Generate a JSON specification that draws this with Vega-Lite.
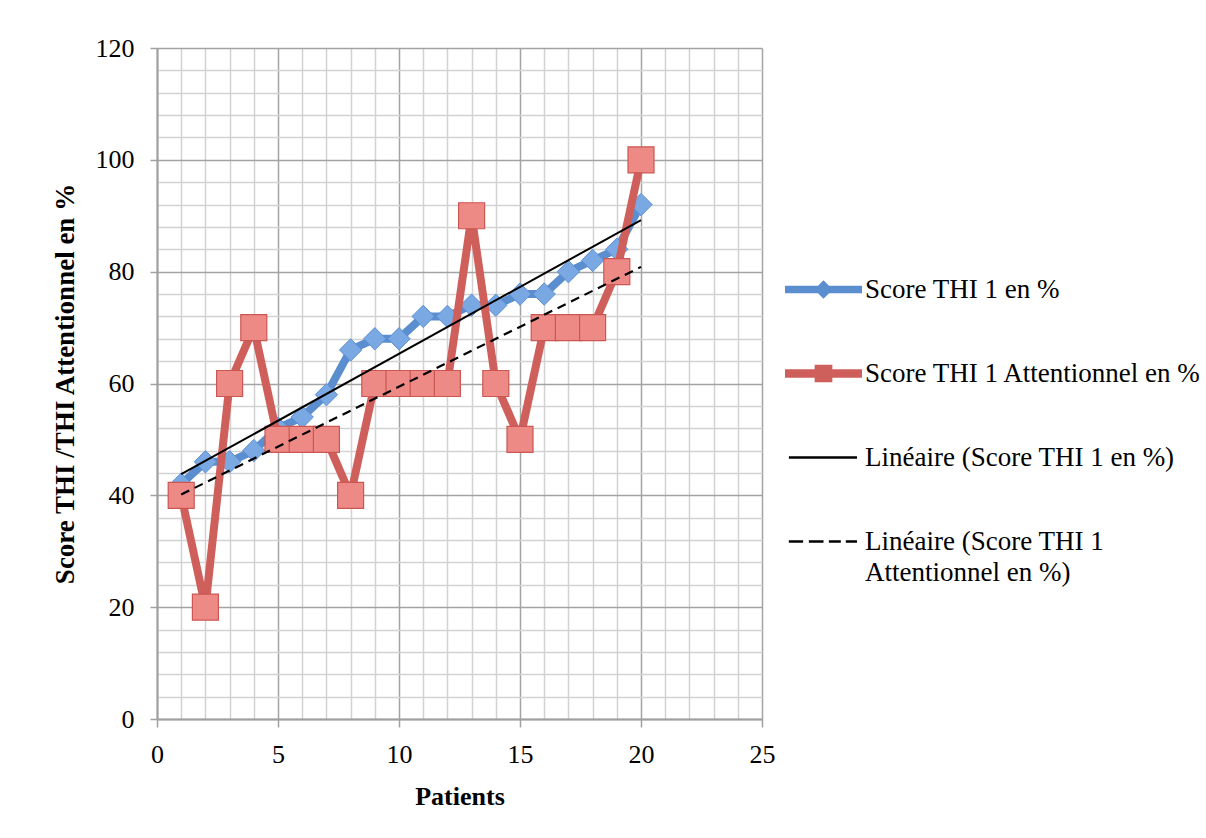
{
  "$schema": "https://vega.github.io/schema/vega-lite/v6.json",
  "width": 605,
  "height": 671,
  "autosize": {"type": "none"},
  "padding": {"left": 157, "top": 48, "right": 444, "bottom": 119},
  "background": "white",
  "config": {
    "view": {"stroke": null},
    "font": "Liberation Serif"
  },
  "data": {
    "values": [
      {"patient": 1, "series": "Score THI 1 en %", "value": 42},
      {"patient": 2, "series": "Score THI 1 en %", "value": 46},
      {"patient": 3, "series": "Score THI 1 en %", "value": 46},
      {"patient": 4, "series": "Score THI 1 en %", "value": 48},
      {"patient": 5, "series": "Score THI 1 en %", "value": 52},
      {"patient": 6, "series": "Score THI 1 en %", "value": 54},
      {"patient": 7, "series": "Score THI 1 en %", "value": 58},
      {"patient": 8, "series": "Score THI 1 en %", "value": 66},
      {"patient": 9, "series": "Score THI 1 en %", "value": 68},
      {"patient": 10, "series": "Score THI 1 en %", "value": 68},
      {"patient": 11, "series": "Score THI 1 en %", "value": 72},
      {"patient": 12, "series": "Score THI 1 en %", "value": 72},
      {"patient": 13, "series": "Score THI 1 en %", "value": 74},
      {"patient": 14, "series": "Score THI 1 en %", "value": 74},
      {"patient": 15, "series": "Score THI 1 en %", "value": 76},
      {"patient": 16, "series": "Score THI 1 en %", "value": 76},
      {"patient": 17, "series": "Score THI 1 en %", "value": 80},
      {"patient": 18, "series": "Score THI 1 en %", "value": 82},
      {"patient": 19, "series": "Score THI 1 en %", "value": 84},
      {"patient": 20, "series": "Score THI 1 en %", "value": 92},
      {"patient": 1, "series": "Score THI 1 Attentionnel en %", "value": 40},
      {"patient": 2, "series": "Score THI 1 Attentionnel en %", "value": 20},
      {"patient": 3, "series": "Score THI 1 Attentionnel en %", "value": 60},
      {"patient": 4, "series": "Score THI 1 Attentionnel en %", "value": 70},
      {"patient": 5, "series": "Score THI 1 Attentionnel en %", "value": 50},
      {"patient": 6, "series": "Score THI 1 Attentionnel en %", "value": 50},
      {"patient": 7, "series": "Score THI 1 Attentionnel en %", "value": 50},
      {"patient": 8, "series": "Score THI 1 Attentionnel en %", "value": 40},
      {"patient": 9, "series": "Score THI 1 Attentionnel en %", "value": 60},
      {"patient": 10, "series": "Score THI 1 Attentionnel en %", "value": 60},
      {"patient": 11, "series": "Score THI 1 Attentionnel en %", "value": 60},
      {"patient": 12, "series": "Score THI 1 Attentionnel en %", "value": 60},
      {"patient": 13, "series": "Score THI 1 Attentionnel en %", "value": 90},
      {"patient": 14, "series": "Score THI 1 Attentionnel en %", "value": 60},
      {"patient": 15, "series": "Score THI 1 Attentionnel en %", "value": 50},
      {"patient": 16, "series": "Score THI 1 Attentionnel en %", "value": 70},
      {"patient": 17, "series": "Score THI 1 Attentionnel en %", "value": 70},
      {"patient": 18, "series": "Score THI 1 Attentionnel en %", "value": 70},
      {"patient": 19, "series": "Score THI 1 Attentionnel en %", "value": 80},
      {"patient": 20, "series": "Score THI 1 Attentionnel en %", "value": 100}
    ]
  },
  "encoding": {
    "x": {
      "field": "patient",
      "type": "quantitative",
      "scale": {"domain": [0, 25], "nice": false, "zero": false},
      "axis": {
        "title": "Patients",
        "values": [0,1,2,3,4,5,6,7,8,9,10,11,12,13,14,15,16,17,18,19,20,21,22,23,24,25],
        "labelExpr": "datum.value % 5 === 0 ? datum.label : ''",
        "labelOverlap": false,
        "labelFlush": false,
        "labelBound": false,
        "labelFont": "Liberation Serif",
        "labelFontSize": 26,
        "labelColor": "#000000",
        "labelPadding": 14,
        "tickSize": 8,
        "tickWidth": 1.5,
        "tickColor": {"condition": {"test": "datum.value % 5 === 0", "value": "#a0a0a0"}, "value": "transparent"},
        "grid": true,
        "gridWidth": 1.5,
        "gridColor": {"condition": {"test": "datum.value % 5 === 0", "value": "#a3a3a3"}, "value": "#d2d2d2"},
        "domainColor": "#a0a0a0",
        "domainWidth": 2,
        "titleFont": "Liberation Serif",
        "titleFontSize": 26,
        "titleFontWeight": "bold",
        "titleColor": "#000000",
        "titlePadding": 16
      }
    },
    "y": {
      "field": "value",
      "type": "quantitative",
      "scale": {"domain": [0, 120], "nice": false},
      "axis": {
        "title": "Score THI /THI Attentionnel en %",
        "values": [0,4,8,12,16,20,24,28,32,36,40,44,48,52,56,60,64,68,72,76,80,84,88,92,96,100,104,108,112,116,120],
        "labelExpr": "datum.value % 20 === 0 ? datum.label : ''",
        "labelOverlap": false,
        "labelFlush": false,
        "labelBound": false,
        "labelFont": "Liberation Serif",
        "labelFontSize": 26,
        "labelColor": "#000000",
        "labelPadding": 16,
        "tickSize": 7,
        "tickWidth": 1.5,
        "tickColor": {"condition": {"test": "datum.value % 20 === 0", "value": "#a0a0a0"}, "value": "transparent"},
        "grid": true,
        "gridWidth": 1.5,
        "gridColor": {"condition": {"test": "datum.value % 20 === 0", "value": "#a3a3a3"}, "value": "#d2d2d2"},
        "domainColor": "#a0a0a0",
        "domainWidth": 2,
        "titleFont": "Liberation Serif",
        "titleFontSize": 27,
        "titleFontWeight": "bold",
        "titleColor": "#000000",
        "titlePadding": 16
      }
    }
  },
  "layer": [
    {
      "transform": [{"filter": "datum.series === 'Score THI 1 en %'"}],
      "mark": {"type": "line", "color": "#5a8ecf", "strokeWidth": 8, "strokeJoin": "round", "strokeCap": "round"}
    },
    {
      "transform": [{"filter": "datum.series === 'Score THI 1 en %'"}],
      "mark": {"type": "point", "shape": "diamond", "filled": true, "size": 500, "fill": "#7aa8e2", "stroke": "#5b8fd2", "strokeWidth": 1, "opacity": 1}
    },
    {
      "transform": [{"filter": "datum.series === 'Score THI 1 Attentionnel en %'"}],
      "mark": {"type": "line", "color": "#cf5f5b", "strokeWidth": 8, "strokeJoin": "round", "strokeCap": "round"}
    },
    {
      "transform": [{"filter": "datum.series === 'Score THI 1 Attentionnel en %'"}],
      "mark": {"type": "point", "shape": "square", "filled": true, "size": 676, "fill": "#ee8a86", "stroke": "#cc5652", "strokeWidth": 1.2, "opacity": 1}
    },
    {
      "transform": [
        {"filter": "datum.series === 'Score THI 1 en %'"},
        {"regression": "value", "on": "patient", "extent": [1, 20]}
      ],
      "mark": {"type": "line", "color": "#000000", "strokeWidth": 2}
    },
    {
      "transform": [
        {"filter": "datum.series === 'Score THI 1 Attentionnel en %'"},
        {"regression": "value", "on": "patient", "extent": [1, 20]}
      ],
      "mark": {"type": "line", "color": "#000000", "strokeWidth": 2.2, "strokeDash": [9, 6]}
    },
    {
      "mark": {"type": "point", "filled": true, "opacity": 0},
      "encoding": {
        "color": {
          "field": "series",
          "type": "nominal",
          "scale": {
            "domain": ["Score THI 1 en %", "Score THI 1 Attentionnel en %", "Linéaire (Score THI 1 en %)", "Linéaire (Score THI 1 Attentionnel en %)"],
            "range": ["#5a8ecf", "#cf5f5b", "#000000", "#000000"]
          },
          "legend": {
            "title": null,
            "orient": "none",
            "legendX": 628,
            "legendY": 203,
            "padding": 0,
            "symbolSize": 5929,
            "symbolStrokeWidth": 0,
            "symbolOpacity": 1,
            "labelFont": "Liberation Serif",
            "labelFontSize": 27,
            "labelColor": "#000000",
            "labelLimit": 0,
            "labelOffset": 3,
            "rowPadding": 32,
            "labelExpr": "datum.label === 'Linéaire (Score THI 1 Attentionnel en %)' ? ['Linéaire (Score THI 1', 'Attentionnel en %)'] : datum.label",
            "encoding": {
              "labels": {
                "lineHeight": {"value": 31}
              }
            }
          }
        },
        "shape": {
          "field": "series",
          "type": "nominal",
          "scale": {
            "domain": ["Score THI 1 en %", "Score THI 1 Attentionnel en %", "Linéaire (Score THI 1 en %)", "Linéaire (Score THI 1 Attentionnel en %)"],
            "range": [
              "M-1,-0.1 L1,-0.1 L1,0.1 L-1,0.1 Z M0,-0.24 L0.24,0 L0,0.24 L-0.24,0 Z",
              "M-1,-0.11 L1,-0.11 L1,0.11 L-1,0.11 Z M-0.23,-0.23 L0.23,-0.23 L0.23,0.23 L-0.23,0.23 Z",
              "M-0.9,-0.03 L0.87,-0.03 L0.87,0.03 L-0.9,0.03 Z",
              "M-0.9,-0.035 L-0.53,-0.035 L-0.53,0.035 L-0.9,0.035 Z M-0.38,-0.035 L0,-0.035 L0,0.035 L-0.38,0.035 Z M0.14,-0.035 L0.45,-0.035 L0.45,0.035 L0.14,0.035 Z M0.58,-0.035 L0.87,-0.035 L0.87,0.035 L0.58,0.035 Z"
            ]
          }
        }
      }
    }
  ]
}
